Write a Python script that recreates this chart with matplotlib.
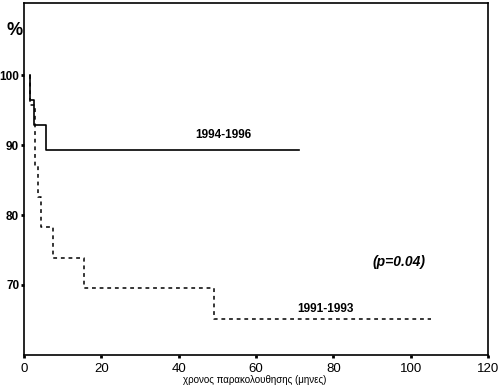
import matplotlib
matplotlib.use("Agg")
import matplotlib.pyplot as plt

plt.rcParams['font.family'] = ['Liberation Sans', 'DejaVu Sans']

# 1994-1996 survival curve (months, %)
t_9496 = [1.5, 1.5, 2.6, 5.7, 71]
s_9496 = [100, 96.4, 92.9, 89.3, 89.3]

# 1991-1993 survival curve (months, %)
t_9193 = [1.5, 1.5, 2.8, 3.7, 4.4, 7.5, 15.5, 49.2, 105.3]
s_9193 = [100, 95.7, 87.0, 82.6, 78.3, 73.9, 69.6, 65.2, 65.2]

x_ticks = [0, 20, 40, 60, 80, 100, 120]
y_ticks = [70, 80, 90, 100]

fig = plt.figure(figsize=(5, 3.9), dpi=100)
ax = fig.add_axes([0.048, 0.09, 0.928, 0.902])

ax.plot(t_9496, s_9496, drawstyle='steps-post', color='black', lw=1.2)
ax.plot(t_9193, s_9193, drawstyle='steps-post', color='black', lw=1.1,
        linestyle=(0, (2.5, 2.5)))

ax.set_xlim(0, 120)
ax.set_ylim(60, 110.3)
ax.set_xticks(x_ticks)
ax.set_yticks(y_ticks)
ax.set_yticklabels([str(v) for v in y_ticks], fontweight='bold', fontsize=8.5)
ax.tick_params(axis='both', direction='out', length=2.5, width=2)
ax.tick_params(axis='x', pad=3, labelsize=9.5)
ax.tick_params(axis='y', pad=1)
for s in ax.spines.values():
    s.set_linewidth(1.2)

ax.text(51.5, 91.4, '1994-1996', ha='center', va='center', fontsize=8.5, fontweight='bold')
ax.text(78, 66.6, '1991-1993', ha='center', va='center', fontsize=8.5, fontweight='bold')
ax.text(97, 73.3, '(p=0.04)', ha='center', va='center', fontsize=10,
        fontweight='bold', fontstyle='italic')

fig.text(0.03, 0.923, '%', ha='center', va='center', fontsize=13, fontweight='bold')
fig.text(0.51, 0.025, 'χρονος παρακολουθησης (μηνες)', ha='center', va='center', fontsize=7)

fig.savefig('out.png', dpi=100)
